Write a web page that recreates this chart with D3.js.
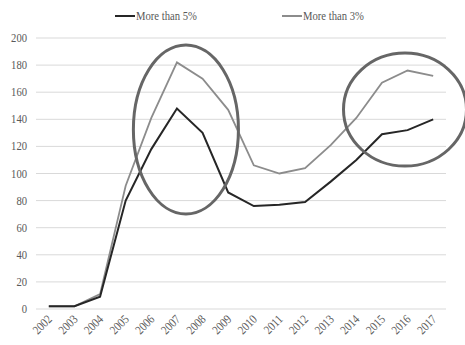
<!DOCTYPE html>
<html><head><meta charset="utf-8">
<script src="https://cdn.jsdelivr.net/npm/d3@7"></script>
<style>body{margin:0;background:#fff}</style>
</head><body>
<svg id="c" width="465" height="345"></svg>
<script>
const years = ["2002","2003","2004","2005","2006","2007","2008","2009","2010","2011","2012","2013","2014","2015","2016","2017"];
const moreThan5 = [2,2,9,80,118,148,130,86,76,77,79,94,110,129,132,140];
const moreThan3 = [2,2,11,91,141,182,170,147,106,100,104,121,141,167,176,172];
const yTicks = [0,20,40,60,80,100,120,140,160,180,200];
const seriesNames = ["More than 5%","More than 3%"];
// annotation ellipses: center (category index, value), radii (index units, value units)
const ellipses = [
  {ci:5.35, cv:132.5, ri:2.05, rv:62.4},
  {ci:13.9, cv:147.2, ri:2.4, rv:41.7}
];

(function(){
const svg = d3.select("#c");
const mLeft = 36, mRight = 446, mTop = 38, mBottom = 309;
const x = d3.scaleBand().domain(years).range([mLeft, mRight]);
const xi = d3.scaleLinear().domain([0,1]).range([mLeft + x.bandwidth()/2, mLeft + x.bandwidth()*1.5]);
const y = d3.scaleLinear().domain([0,200]).range([mBottom, mTop]);
const font = "Liberation Serif";

// gridlines
svg.append("g").selectAll("line").data(yTicks).join("line")
  .attr("x1", mLeft).attr("x2", mRight)
  .attr("y1", d=>y(d)).attr("y2", d=>y(d))
  .attr("stroke", "#d9d9d9").attr("stroke-width", 1);

// y labels
svg.append("g").selectAll("text").data(yTicks).join("text")
  .attr("transform", d=>`translate(27,${y(d)+4}) scale(0.85,1)`)
  .attr("text-anchor","end")
  .attr("font-family", font).attr("font-size", 12.5)
  .attr("fill","#595959")
  .text(d=>d);

// x labels
svg.append("g").selectAll("text").data(years).join("text")
  .attr("transform", d=>`translate(${x(d)+x.bandwidth()/2+4},${mBottom+11}) rotate(-45) scale(0.85,1)`)
  .attr("text-anchor","end")
  .attr("font-family", font).attr("font-size", 12.5)
  .attr("fill","#595959")
  .text(d=>d);

const line = d3.line().x((d,i)=>x(years[i])+x.bandwidth()/2).y(d=>y(d));
svg.append("path").datum(moreThan3).attr("d", line)
  .attr("fill","none").attr("stroke","#8c8c8c").attr("stroke-width",1.8);
svg.append("path").datum(moreThan5).attr("d", line)
  .attr("fill","none").attr("stroke","#262626").attr("stroke-width",2);

// ellipses
svg.append("g").selectAll("ellipse").data(ellipses).join("ellipse")
  .attr("cx", d=>xi(d.ci)).attr("cy", d=>y(d.cv))
  .attr("rx", d=>xi(d.ri)-xi(0)).attr("ry", d=>y(0)-y(d.rv))
  .attr("fill","none").attr("stroke","#666").attr("stroke-width",3);

// legend
const legX = [115, 282];
const legColors = ["#262626","#8c8c8c"];
const lg = svg.append("g").selectAll("g").data(seriesNames).join("g")
  .attr("transform",(d,i)=>`translate(${legX[i]},16)`);
lg.append("line").attr("x1",0).attr("x2",20).attr("y1",0).attr("y2",0)
  .attr("stroke",(d,i)=>legColors[i]).attr("stroke-width",2);
lg.append("text").attr("x",21).attr("y",4)
  .attr("font-family", font).attr("font-size", 12.5).attr("fill","#595959")
  .attr("textLength", 61).attr("lengthAdjust","spacingAndGlyphs")
  .text(d=>d);
})();
</script>
</body></html>
